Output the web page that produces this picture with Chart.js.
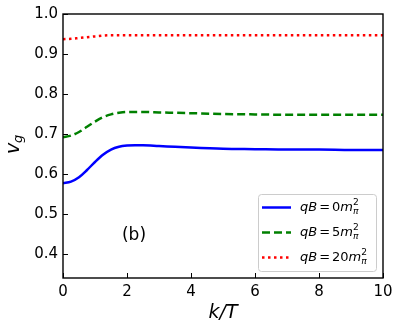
<!DOCTYPE html>
<html>
<head>
<meta charset="utf-8">
<script src="https://cdn.jsdelivr.net/npm/chart.js@4.4.1/dist/chart.umd.min.js"></script>
<style>
html,body{margin:0;padding:0;background:#fff}
#wrap{width:399px;height:332px;position:relative}
</style>
</head>
<body>
<div id="wrap"><canvas id="c" width="399" height="332"></canvas></div>
<script>
// values
const K = [0, 0.25, 0.5, 0.75, 1, 1.25, 1.5, 1.75, 2, 2.25, 2.5, 3, 3.5, 4, 5, 6, 7, 8, 9, 10];
const V_QB0  = [0.577, 0.581, 0.592, 0.610, 0.630, 0.648, 0.661, 0.668, 0.671, 0.672, 0.672, 0.670, 0.668, 0.666, 0.663, 0.662, 0.661, 0.661, 0.660, 0.660];
const V_QB5  = [0.692, 0.696, 0.705, 0.718, 0.731, 0.742, 0.749, 0.753, 0.755, 0.755, 0.755, 0.754, 0.753, 0.752, 0.750, 0.749, 0.748, 0.748, 0.748, 0.748];
const V_QB20 = [0.937, 0.938, 0.940, 0.942, 0.944, 0.946, 0.947, 0.947, 0.947, 0.947, 0.947, 0.947, 0.947, 0.947, 0.947, 0.947, 0.947, 0.947, 0.947, 0.947];
const LEG_B = ["0", "5", "20"];
const X_TICKS = [0, 2, 4, 6, 8, 10];
const Y_TICKS = [0.4, 0.5, 0.6, 0.7, 0.8, 0.9, 1.0];

const FONT = "'DejaVu Sans', sans-serif";
const pts = v => K.map((k,i)=>({x:k, y:v[i]}));

const styles = [
  {color:"#0000ff", dash:[]},
  {color:"#008000", dash:[8,4]},
  {color:"#ff0000", dash:[2.5,3.5]}
];

// draw "qB = Nm_pi^2" with italics / sub / sup
function mathLabel(ctx, x, y, n){
  const fs = 13;
  let cx = x;
  const put = (t, font, dy)=>{ ctx.font = font; ctx.fillText(t, cx, y+dy); cx += ctx.measureText(t).width; };
  put("qB", `italic ${fs}px ${FONT}`, 0);
  cx += 2; put("=", `${fs}px ${FONT}`, 0); cx += 2;
  put(n, `${fs}px ${FONT}`, 0);
  put("m", `italic ${fs}px ${FONT}`, 0);
  const sx = cx;
  put("2", `${fs*0.7}px ${FONT}`, -5);
  cx = sx; put("π", `italic ${fs*0.7}px ${FONT}`, 4);
}

const decor = {
  id:"decor",
  afterDraw(chart){
    const ctx = chart.ctx, a = chart.chartArea;
    const xs = chart.scales.x, ys = chart.scales.y;
    ctx.save();
    // frame
    ctx.strokeStyle = "#000"; ctx.lineWidth = 1.4;
    ctx.strokeRect(a.left, a.top, a.right-a.left, a.bottom-a.top);
    // inward ticks
    ctx.lineWidth = 1;
    ctx.beginPath();
    X_TICKS.forEach(v=>{ const px = Math.round(xs.getPixelForValue(v))+0.5; ctx.moveTo(px, a.bottom); ctx.lineTo(px, a.bottom-5); });
    Y_TICKS.forEach(v=>{ const py = Math.round(ys.getPixelForValue(v))+0.5; ctx.moveTo(a.left, py); ctx.lineTo(a.left+5, py); });
    ctx.stroke();
    // axis titles
    ctx.fillStyle = "#000"; ctx.textBaseline = "middle"; ctx.textAlign = "center";
    ctx.font = `italic 19px ${FONT}`;
    ctx.fillText("k/T", (a.left+a.right)/2, 313);
    ctx.save();
    ctx.translate(14, (a.top+a.bottom)/2);
    ctx.rotate(-Math.PI/2);
    ctx.textAlign = "left";
    ctx.font = `italic 19px ${FONT}`;
    ctx.fillText("v", -8, 0);
    ctx.font = `italic 13px ${FONT}`;
    ctx.fillText("g", 3, 5);
    ctx.restore();
    // panel tag
    ctx.font = `17px ${FONT}`;
    ctx.fillText("(b)", 134, 236);
    // legend
    const lx = 258, ly = 194, lw = 118, lh = 77;
    ctx.fillStyle = "rgba(255,255,255,0.85)"; ctx.strokeStyle = "#cccccc"; ctx.lineWidth = 1;
    ctx.beginPath(); ctx.roundRect(lx+0.5, ly+0.5, lw, lh, 3); ctx.fill(); ctx.stroke();
    const rows = [207.5, 232.5, 257.5];
    rows.forEach((ry,i)=>{
      ctx.strokeStyle = styles[i].color; ctx.lineWidth = 2.5; ctx.setLineDash(styles[i].dash);
      ctx.beginPath(); ctx.moveTo(262, ry); ctx.lineTo(291, ry); ctx.stroke();
      ctx.setLineDash([]);
      ctx.fillStyle = "#000"; ctx.textAlign = "left"; ctx.textBaseline = "middle";
      mathLabel(ctx, 300, ry, LEG_B[i]);
    });
    ctx.restore();
  }
};

new Chart(document.getElementById("c"), {
  type:"line",
  data:{
    datasets:[V_QB0, V_QB5, V_QB20].map((v,i)=>({
      data:pts(v), borderColor:styles[i].color, borderDash:styles[i].dash,
      borderWidth:2.5, pointRadius:0, cubicInterpolationMode:"monotone", fill:false
    }))
  },
  options:{
    responsive:false, animation:false,
    layout:{padding:{left:0, right:16, top:12, bottom:0}},
    plugins:{legend:{display:false}, tooltip:{enabled:false}},
    scales:{
      x:{type:"linear", min:0, max:10,
        afterBuildTicks:s=>{ s.ticks = X_TICKS.map(v=>({value:v})); },
        afterFit:s=>{ s.height = 54; },
        grid:{display:false, drawTicks:false}, border:{display:false},
        ticks:{color:"#000", padding:5, font:{family:FONT, size:15}, maxRotation:0}
      },
      y:{type:"linear", min:0.34, max:1.0,
        afterBuildTicks:s=>{ s.ticks = Y_TICKS.map(v=>({value:v})); },
        afterFit:s=>{ s.width = 63; },
        grid:{display:false, drawTicks:false}, border:{display:false},
        ticks:{color:"#000", padding:5, font:{family:FONT, size:15}, callback:v=>v.toFixed(1)}
      }
    }
  },
  plugins:[decor]
});
</script>
</body>
</html>
